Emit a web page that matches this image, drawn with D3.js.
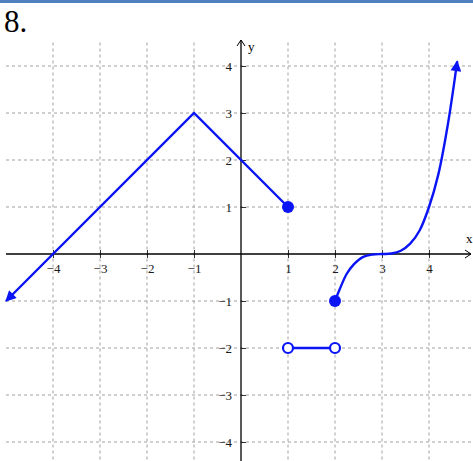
<!DOCTYPE html>
<html>
<head>
<meta charset="utf-8">
<script src="https://cdn.jsdelivr.net/npm/d3@7"></script>
<style>
  body { margin: 0; background: #fff; }
  .tick text { font-family: "Liberation Serif", serif; font-size: 13px; fill: #1a1a1a; }
</style>
</head>
<body>
<div id="chart"></div>
<script>
var svgWidth = 473;
var svgHeight = 461;

// tick values on both axes
var xTicks = [-4, -3, -2, -1, 1, 2, 3, 4];
var yTicks = [-4, -3, -2, -1, 1, 2, 3, 4];
var gridVals = [-4, -3, -2, -1, 1, 2, 3, 4];

// piece 1: line with arrow at the left end, filled dot at (1,1)
var pieceA = [[-5, -1], [-1, 3], [1, 1]];
// piece 2: segment between two open circles
var pieceB = [[1, -2], [2, -2]];
// piece 3: curve from filled dot (2,-1)
var curveX = [2, 2.1, 2.25, 2.4, 2.6, 2.8, 3, 3.2, 3.4, 3.6, 3.8, 4, 4.2, 4.4, 4.6];
var curveY = [-1, -0.75, -0.42, -0.22, -0.06, -0.01, 0, 0.01, 0.07, 0.22, 0.5, 1, 1.7, 2.75, 4.1];

var filledDots = [[1, 1], [2, -1]];
var openDots = [[1, -2], [2, -2]];

var svg = d3.select("#chart")
  .append("svg")
  .attr("width", svgWidth)
  .attr("height", svgHeight);

var x = d3.scaleLinear().domain([-5, 5]).range([6, 476]);
var y = d3.scaleLinear().domain([4.5, -4.5]).range([42.5, 465.5]);

var blue = "#0a14f5";

// header rule and problem number
svg.append("rect")
  .attr("x", 0).attr("y", 0)
  .attr("width", svgWidth).attr("height", 3)
  .attr("fill", "#4f7fbf");

svg.append("text")
  .attr("x", 4).attr("y", 32)
  .style("font-family", "Liberation Serif, serif")
  .style("font-size", "31px")
  .text("8.");

// grid
var grid = svg.append("g")
  .attr("stroke", "#a0a0a0")
  .attr("stroke-width", 1)
  .attr("stroke-dasharray", "3,3");

grid.selectAll(".v")
  .data(gridVals)
  .enter().append("line")
  .attr("x1", d => x(d)).attr("x2", d => x(d))
  .attr("y1", y(4.5)).attr("y2", svgHeight);

grid.selectAll(".h")
  .data(gridVals)
  .enter().append("line")
  .attr("y1", d => y(d)).attr("y2", d => y(d))
  .attr("x1", x(-5)).attr("x2", svgWidth);

// axes
var fmt = d => d < 0 ? "\u2212" + Math.abs(d) : d;

var bottomAxis = d3.axisBottom(x)
  .tickValues(xTicks)
  .tickSize(4)
  .tickPadding(6)
  .tickFormat(fmt);

var leftAxis = d3.axisLeft(y)
  .tickValues(yTicks)
  .tickSize(5)
  .tickPadding(4)
  .tickFormat(fmt);

var xAxisG = svg.append("g")
  .attr("transform", `translate(0, ${y(0)})`)
  .call(bottomAxis);
xAxisG.select(".domain").remove();
xAxisG.selectAll(".tick line").attr("y1", -4).attr("stroke", "#333");

var yAxisG = svg.append("g")
  .attr("transform", `translate(${x(0)}, 0)`)
  .call(leftAxis);
yAxisG.select(".domain").remove();
yAxisG.selectAll(".tick line").attr("x2", 5).attr("stroke", "#333");
yAxisG.selectAll(".tick text").attr("dy", "0.35em");

// axis lines with open arrow heads
svg.append("line")
  .attr("x1", x(-5)).attr("x2", 471)
  .attr("y1", y(0)).attr("y2", y(0))
  .attr("stroke", "#000").attr("stroke-width", 1.3);
svg.append("path")
  .attr("d", `M${465},${y(0) - 4}L${471},${y(0)}L${465},${y(0) + 4}`)
  .attr("fill", "none").attr("stroke", "#000").attr("stroke-width", 1);

svg.append("line")
  .attr("x1", x(0)).attr("x2", x(0))
  .attr("y1", 40).attr("y2", svgHeight)
  .attr("stroke", "#000").attr("stroke-width", 1.3);
svg.append("path")
  .attr("d", `M${x(0) - 4},${46}L${x(0)},${40}L${x(0) + 4},${46}`)
  .attr("fill", "none").attr("stroke", "#000").attr("stroke-width", 1);

svg.append("text")
  .attr("x", 466).attr("y", 243)
  .style("font-family", "Liberation Serif, serif")
  .style("font-size", "13px")
  .text("x");
svg.append("text")
  .attr("x", 248).attr("y", 51)
  .style("font-family", "Liberation Serif, serif")
  .style("font-size", "13px")
  .text("y");

// arrow marker
svg.append("defs").append("marker")
  .attr("id", "arrow")
  .attr("viewBox", "0 0 10 10")
  .attr("refX", 9).attr("refY", 5)
  .attr("markerWidth", 5).attr("markerHeight", 4.5)
  .attr("markerUnits", "strokeWidth")
  .attr("orient", "auto-start-reverse")
  .append("path")
  .attr("d", "M0,0L10,5L0,10Z")
  .attr("fill", blue);

var line = d3.line().x(d => x(d[0])).y(d => y(d[1]));

svg.append("path")
  .datum(pieceA)
  .attr("d", line)
  .attr("fill", "none")
  .attr("stroke", blue)
  .attr("stroke-width", 2.4)
  .attr("marker-start", "url(#arrow)");

svg.append("path")
  .datum(pieceB)
  .attr("d", line)
  .attr("fill", "none")
  .attr("stroke", blue)
  .attr("stroke-width", 2.4);

var curvePts = curveX.map((d, i) => [d, curveY[i]]);
svg.append("path")
  .datum(curvePts)
  .attr("d", line.curve(d3.curveCatmullRom))
  .attr("fill", "none")
  .attr("stroke", blue)
  .attr("stroke-width", 2.4)
  .attr("marker-end", "url(#arrow)");

svg.selectAll(".filled")
  .data(filledDots)
  .enter().append("circle")
  .attr("cx", d => x(d[0]))
  .attr("cy", d => y(d[1]))
  .attr("r", 6)
  .attr("fill", blue);

svg.selectAll(".open")
  .data(openDots)
  .enter().append("circle")
  .attr("cx", d => x(d[0]))
  .attr("cy", d => y(d[1]))
  .attr("r", 5)
  .attr("fill", "#fff")
  .attr("stroke", blue)
  .attr("stroke-width", 2.2);
</script>
</body>
</html>
